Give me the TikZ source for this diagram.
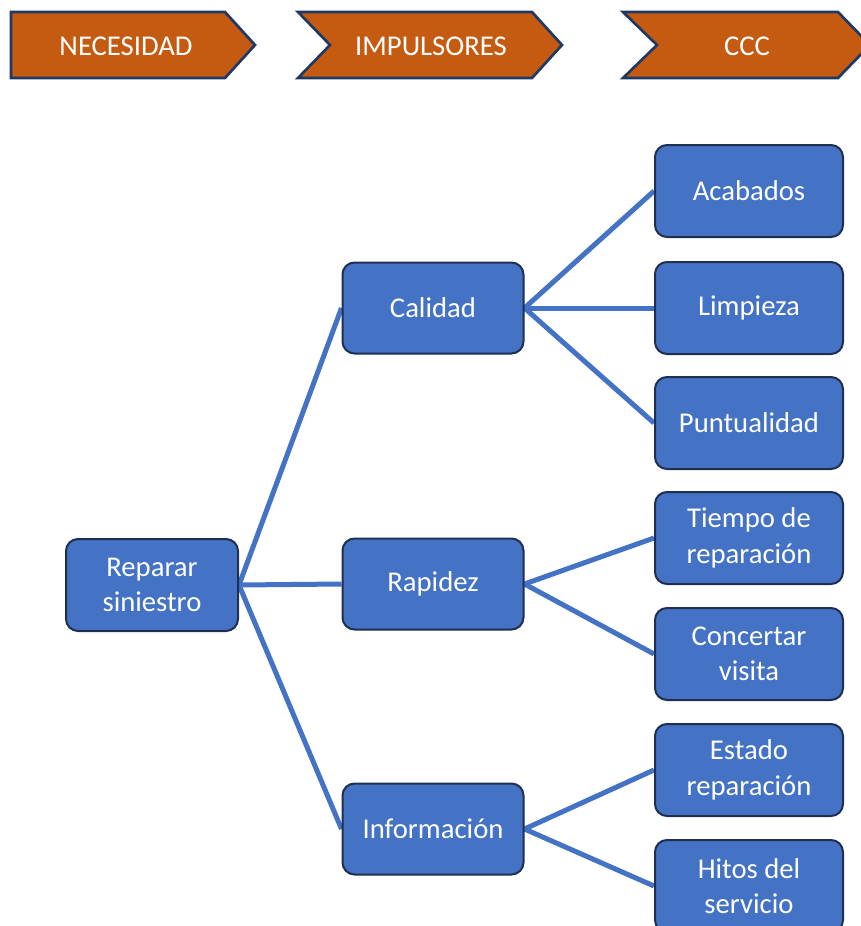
\documentclass[tikz,border=0pt]{standalone}
\usepackage{fontspec}
\setmainfont{Carlito}
\usepackage{xcolor}
\pgfdeclarelayer{background}
\pgfsetlayers{background,main}

\definecolor{boxblue}{HTML}{4472C4}
\definecolor{boxedge}{HTML}{1E2F4F}
\definecolor{chevfill}{HTML}{C55A11}
\definecolor{chevedge}{HTML}{1F3864}

\tikzset{
  box/.style={draw=boxedge, line width=1.5pt, fill=boxblue, rounded corners=9pt,
    text=white, font=\fontsize{21.5}{26.5}\selectfont, align=center, inner sep=0pt},
  leftbox/.style={box, minimum width=129pt, minimum height=69pt},
  midbox/.style={box, minimum width=135.75pt, minimum height=68.25pt},
  rightbox/.style={box, minimum width=141pt, minimum height=69pt},
  chevron/.style={draw=chevedge, line width=2pt, fill=chevfill, line join=miter},
  chevtext/.style={text=white, font=\fontsize{21.5}{26.5}\selectfont},
  link/.style={draw=boxblue, line width=3.75pt}
}

\begin{document}
\begin{tikzpicture}[x=0.75pt,y=-0.75pt]

\useasboundingbox (0,0) rectangle (861,926) ;

%header chevrons
\draw [chevron] (11,12) -- (225,12) -- (255,45) -- (225,78) -- (11,78) -- cycle ;
\draw [chevron] (298,12) -- (532,12) -- (562,45) -- (532,78) -- (298,78) -- (330,45) -- cycle ;
\draw [chevron] (623,12) -- (838,12) -- (870,45) -- (838,78) -- (623,78) -- (657,45) -- cycle ;

%header labels
\node [chevtext] (nec) at (126,46) {NECESIDAD} ;
\node [chevtext] (imp) at (431,46) {IMPULSORES} ;
\node [chevtext] (ccc) at (747,46) {CCC} ;

%need
\node [leftbox] (rep) at (152,585) {Reparar\\siniestro} ;

%drivers
\node [midbox] (cal) at (433,308) {Calidad} ;
\node [midbox] (rap) at (433,584) {Rapidez} ;
\node [midbox] (inf) at (433,829) {Información} ;

%critical characteristics
\node [rightbox] (aca) at (749,191) {Acabados} ;
\node [rightbox] (lim) at (749,308) {Limpieza} ;
\node [rightbox] (pun) at (749,423) {Puntualidad} ;
\node [rightbox] (tie) at (749,538) {Tiempo de\\reparación} ;
\node [rightbox] (con) at (749,654) {Concertar\\visita} ;
\node [rightbox] (est) at (749,770) {Estado\\reparación} ;
\node [rightbox] (hit) at (749,886) {Hitos del\\servicio} ;

%connectors
\begin{pgfonlayer}{background}
\draw [link] (rep.east) -- (cal.west) ;
\draw [link] (rep.east) -- (rap.west) ;
\draw [link] (rep.east) -- (inf.west) ;
\draw [link] (cal.east) -- (aca.west) ;
\draw [link] (cal.east) -- (lim.west) ;
\draw [link] (cal.east) -- (pun.west) ;
\draw [link] (rap.east) -- (tie.west) ;
\draw [link] (rap.east) -- (con.west) ;
\draw [link] (inf.east) -- (est.west) ;
\draw [link] (inf.east) -- (hit.west) ;
\end{pgfonlayer}

\end{tikzpicture}
\end{document}
